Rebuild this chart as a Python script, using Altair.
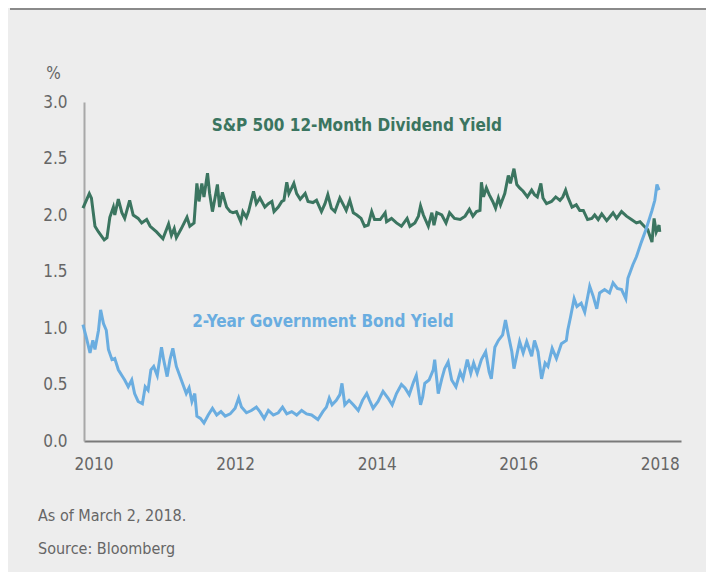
import altair as alt
import pandas as pd

# S&P 500 12-month dividend yield (%)
div_t = [2009.85, 2009.94, 2009.97, 2010.02, 2010.07, 2010.15, 2010.19, 2010.23, 2010.28, 2010.30,
         2010.35, 2010.40, 2010.44, 2010.51, 2010.56, 2010.63, 2010.68, 2010.75, 2010.80, 2010.89,
         2010.98, 2011.06, 2011.10, 2011.14, 2011.17, 2011.24, 2011.32, 2011.36, 2011.42, 2011.46,
         2011.49, 2011.53, 2011.56, 2011.61, 2011.64, 2011.68, 2011.71, 2011.75, 2011.78, 2011.82,
         2011.88, 2011.93, 2011.97, 2012.02, 2012.08, 2012.11, 2012.16, 2012.19, 2012.26, 2012.30,
         2012.35, 2012.42, 2012.47, 2012.52, 2012.55, 2012.61, 2012.66, 2012.69, 2012.73, 2012.76,
         2012.80, 2012.83, 2012.87, 2012.92, 2012.99, 2013.03, 2013.10, 2013.15, 2013.22, 2013.27,
         2013.31, 2013.36, 2013.41, 2013.48, 2013.53, 2013.57, 2013.62, 2013.67, 2013.72, 2013.78,
         2013.83, 2013.88, 2013.93, 2013.97, 2014.05, 2014.12, 2014.14, 2014.21, 2014.28, 2014.35,
         2014.43, 2014.47, 2014.54, 2014.59, 2014.62, 2014.66, 2014.73, 2014.78, 2014.81, 2014.85,
         2014.92, 2014.98, 2015.03, 2015.10, 2015.18, 2015.25, 2015.31, 2015.36, 2015.41, 2015.46,
         2015.48, 2015.51, 2015.55, 2015.59, 2015.64, 2015.68, 2015.72, 2015.75, 2015.81, 2015.86,
         2015.89, 2015.94, 2015.98, 2016.02, 2016.07, 2016.13, 2016.19, 2016.23, 2016.27, 2016.32,
         2016.35, 2016.40, 2016.47, 2016.53, 2016.59, 2016.63, 2016.67, 2016.70, 2016.76, 2016.82,
         2016.87, 2016.92, 2016.98, 2017.04, 2017.08, 2017.13, 2017.18, 2017.25, 2017.29, 2017.34,
         2017.39, 2017.46, 2017.53, 2017.60, 2017.67, 2017.72, 2017.78, 2017.83, 2017.89, 2017.92,
         2017.95, 2017.99, 2018.00]
div_v = [2.06, 2.19, 2.15, 1.90, 1.85, 1.78, 1.80, 1.98, 2.07, 2.00,
         2.14, 2.02, 1.97, 2.13, 2.00, 1.97, 1.93, 1.96, 1.90, 1.85,
         1.79, 1.92, 1.82, 1.88, 1.80, 1.88, 1.98, 1.90, 1.93, 2.28,
         2.12, 2.28, 2.16, 2.37, 2.19, 2.03, 2.13, 2.27, 2.07, 2.20,
         2.07, 2.03, 2.02, 2.03, 1.94, 2.03, 1.98, 2.03, 2.21, 2.10,
         2.15, 2.07, 2.10, 2.12, 2.03, 2.07, 2.12, 2.13, 2.29, 2.19,
         2.24, 2.28, 2.19, 2.14, 2.19, 2.12, 2.11, 2.13, 2.03, 2.10,
         2.18, 2.06, 2.03, 2.15, 2.09, 2.04, 2.13, 2.02, 2.00, 1.97,
         1.90, 1.91, 2.03, 1.96, 1.96, 2.02, 1.94, 1.97, 1.93, 1.90,
         1.97, 1.90, 1.93, 1.99, 2.08, 2.00, 1.90, 2.02, 1.91, 2.02,
         2.00, 1.93, 2.02, 1.97, 1.96, 1.99, 2.05, 1.99, 2.03, 2.04,
         2.29, 2.16, 2.24, 2.18, 2.12, 2.06, 2.15, 2.09, 2.19, 2.35,
         2.28, 2.41, 2.27, 2.24, 2.21, 2.16, 2.22, 2.18, 2.16, 2.28,
         2.15, 2.10, 2.12, 2.16, 2.13, 2.16, 2.22, 2.16, 2.07, 2.09,
         2.04, 2.04, 1.96, 1.97, 2.00, 1.96, 2.01, 1.95, 1.98, 2.02,
         1.97, 2.03, 1.99, 1.96, 1.93, 1.94, 1.90, 1.87, 1.76, 1.97,
         1.85, 1.91, 1.85]

# 2-year government bond yield (%)
bond_t = [2009.85, 2009.90, 2009.95, 2009.99, 2010.02, 2010.07, 2010.10, 2010.14, 2010.18, 2010.21,
          2010.26, 2010.30, 2010.35, 2010.40, 2010.44, 2010.49, 2010.54, 2010.58, 2010.63, 2010.69,
          2010.73, 2010.77, 2010.81, 2010.85, 2010.90, 2010.96, 2010.99, 2011.04, 2011.08, 2011.12,
          2011.17, 2011.24, 2011.31, 2011.35, 2011.39, 2011.43, 2011.46, 2011.51, 2011.56, 2011.62,
          2011.68, 2011.74, 2011.80, 2011.86, 2011.93, 2012.00, 2012.05, 2012.09, 2012.16, 2012.23,
          2012.30, 2012.35, 2012.41, 2012.47, 2012.54, 2012.61, 2012.67, 2012.73, 2012.80, 2012.87,
          2012.94, 2013.01, 2013.08, 2013.17, 2013.24, 2013.29, 2013.33, 2013.37, 2013.43, 2013.48,
          2013.51, 2013.55, 2013.61, 2013.67, 2013.74, 2013.80, 2013.86, 2013.90, 2013.95, 2014.02,
          2014.09, 2014.16, 2014.22, 2014.28, 2014.35, 2014.40, 2014.46, 2014.52, 2014.56, 2014.62,
          2014.65, 2014.68, 2014.74, 2014.80, 2014.82, 2014.87, 2014.92, 2014.96, 2015.01, 2015.06,
          2015.12, 2015.18, 2015.22, 2015.28, 2015.33, 2015.37, 2015.42, 2015.48, 2015.54, 2015.59,
          2015.62, 2015.67, 2015.72, 2015.78, 2015.82, 2015.86, 2015.91, 2015.94, 2015.98, 2016.02,
          2016.07, 2016.12, 2016.19, 2016.23, 2016.28, 2016.33, 2016.38, 2016.42, 2016.48, 2016.54,
          2016.61, 2016.68, 2016.70, 2016.74, 2016.79, 2016.83, 2016.89, 2016.94, 2017.01, 2017.06,
          2017.11, 2017.15, 2017.22, 2017.29, 2017.34, 2017.40, 2017.46, 2017.52, 2017.55, 2017.62,
          2017.67, 2017.74, 2017.81, 2017.86, 2017.89, 2017.93, 2017.96, 2017.99]
bond_v = [1.03, 0.91, 0.78, 0.89, 0.81, 0.98, 1.16, 1.04, 0.98, 0.81,
          0.72, 0.73, 0.63, 0.58, 0.54, 0.48, 0.54, 0.42, 0.35, 0.33,
          0.48, 0.45, 0.63, 0.66, 0.58, 0.83, 0.72, 0.57, 0.72, 0.82,
          0.66, 0.54, 0.42, 0.47, 0.35, 0.42, 0.22, 0.20, 0.16, 0.23,
          0.29, 0.23, 0.26, 0.22, 0.24, 0.29, 0.38, 0.30, 0.25, 0.27,
          0.30, 0.26, 0.20, 0.27, 0.23, 0.25, 0.30, 0.24, 0.26, 0.23,
          0.27, 0.24, 0.23, 0.19, 0.26, 0.30, 0.38, 0.32, 0.36, 0.41,
          0.51, 0.32, 0.36, 0.32, 0.27, 0.36, 0.42, 0.36, 0.29, 0.35,
          0.44, 0.38, 0.32, 0.42, 0.50, 0.47, 0.41, 0.52, 0.58, 0.32,
          0.39, 0.51, 0.54, 0.63, 0.72, 0.42, 0.55, 0.64, 0.70, 0.54,
          0.48, 0.61, 0.55, 0.72, 0.60, 0.69, 0.60, 0.72, 0.79, 0.61,
          0.55, 0.83, 0.89, 0.94, 1.07, 0.94, 0.79, 0.64, 0.76, 0.88,
          0.78, 0.88, 0.75, 0.89, 0.79, 0.55, 0.69, 0.66, 0.82, 0.73,
          0.86, 0.89, 0.98, 1.10, 1.26, 1.19, 1.22, 1.14, 1.37, 1.28,
          1.17, 1.31, 1.34, 1.31, 1.40, 1.35, 1.34, 1.26, 1.44, 1.56,
          1.63, 1.76, 1.88, 1.98, 2.04, 2.13, 2.27, 2.22]

labels = ["S&P 500 12-Month Dividend Yield", "2-Year Government Bond Yield"]
label_t = [2013.72, 2013.24]
label_v = [2.79, 1.05]
notes = ["As of March 2, 2018.", "Source: Bloomberg"]
note_y = [414, 447]

GREEN = "#3b7560"
BLUE = "#6aade0"
FONT = "DejaVu Sans Condensed, Roboto, sans-serif"

div_df = pd.DataFrame({"t": div_t, "v": div_v})
bond_df = pd.DataFrame({"t": bond_t, "v": bond_v})
lab_df = pd.DataFrame({"label": labels, "t": label_t, "v": label_v, "c": [GREEN, BLUE]})

x = alt.X("t:Q", scale=alt.Scale(domain=[2009.865, 2018.30], nice=False, zero=False),
          axis=alt.Axis(values=[2010, 2012, 2014, 2016, 2018], format="d", title=None,
                        ticks=False, grid=False, domainColor="#7a7a7a", domainWidth=2,
                        labelFont=FONT, labelFontSize=17, labelColor="#666666",
                        labelPadding=15))
y = alt.Y("v:Q", scale=alt.Scale(domain=[0, 3], nice=False),
          axis=alt.Axis(values=[0, 0.5, 1, 1.5, 2, 2.5, 3], format=".1f", title="%",
                        titleAngle=0, titleX=-31, titleY=-29, titleAlign="center",
                        titleBaseline="middle", titleFont=FONT, titleFontSize=17,
                        titleFontWeight="normal", titleColor="#666666",
                        ticks=False, grid=False, domainColor="#a8a8a8", domainWidth=2,
                        labelFont=FONT, labelFontSize=17, labelColor="#666666",
                        labelPadding=17))

div_line = alt.Chart(div_df).mark_line(color=GREEN, strokeWidth=3).encode(x=x, y=y)
bond_line = alt.Chart(bond_df).mark_line(color=BLUE, strokeWidth=3).encode(x="t:Q", y="v:Q")

lab = alt.Chart(lab_df).mark_text(font=FONT, fontSize=17, fontWeight="bold",
                                  align="center", baseline="middle").encode(
    x="t:Q", y="v:Q", text="label:N", color=alt.Color("c:N", scale=None))

note_layers = [
    alt.Chart(pd.DataFrame({"note": [n]})).mark_text(
        font=FONT, fontSize=16, color="#666666", align="left", baseline="middle").encode(
        x=alt.value(-46), y=alt.value(ny), text="note:N")
    for n, ny in zip(notes, note_y)
]

top_rule = alt.Chart(div_df).mark_rule(color="#8a8a8a", strokeWidth=1.5).encode(
    x=alt.value(-74), x2=alt.value(630), y=alt.value(-93))

chart = alt.layer(top_rule, div_line, bond_line, lab, *note_layers).properties(
    width=597, height=339,
    autosize=alt.AutoSizeParams(type="none"),
    padding={"left": 76, "top": 94, "right": 25, "bottom": 131},
    background="#ededed",
).configure_view(stroke=None)

chart.save("out.html", embed_options={"renderer": "svg", "actions": False})
